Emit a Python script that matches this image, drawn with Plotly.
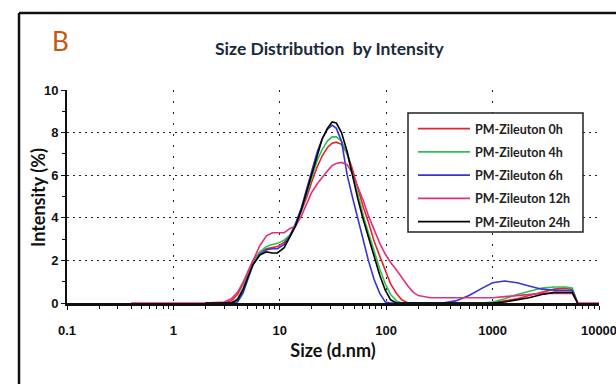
import plotly.graph_objects as go

# ---- data ----
sizes = [0.4, 0.6, 1, 2, 3, 3.5, 4, 4.5, 5, 5.6, 6.5, 7.5, 8.5, 9.5, 11, 12.5,
         14, 16, 18, 20, 22.5, 25, 28, 31, 34, 38, 43, 48, 54, 61, 68, 77, 87,
         98, 110, 125, 140, 160, 180, 200, 260, 340, 450, 600, 800, 1000, 1300,
         1700, 2200, 2900, 3800, 4800, 5600, 6300, 8000, 10000]

int_0h = [None, None, None, 0, 0, 0.1, 0.4, 0.9, 1.45, 2.0, 2.4, 2.55, 2.6, 2.65, 2.85, 3.2,
          3.6, 4.3, 5.0, 5.7, 6.4, 6.9, 7.3, 7.5, 7.55, 7.45, 7.0, 6.3, 5.4, 4.5, 3.8, 2.9, 2.2,
          1.5, 0.9, 0.45, 0.15, 0, 0, 0, 0, 0, 0, 0, 0, 0, 0.1,
          0.2, 0.35, 0.5, 0.65, 0.7, 0.65, 0, None, None]
int_4h = [None, None, None, 0, 0, 0, 0.2, 0.7, 1.3, 1.9, 2.4, 2.65, 2.75, 2.8, 2.95, 3.2,
          3.7, 4.4, 5.2, 5.9, 6.7, 7.2, 7.6, 7.8, 7.8, 7.6, 7.0, 6.1, 5.1, 4.1, 3.3, 2.4, 1.6,
          0.9, 0.4, 0.1, 0, 0, 0, 0, 0, 0, 0, 0, 0, 0.05, 0.2,
          0.4, 0.55, 0.7, 0.75, 0.75, 0.7, 0, None, None]
int_6h = [None, None, None, 0, 0, 0, 0.05, 0.45, 1.1, 1.8, 2.3, 2.5, 2.55, 2.55, 2.75, 3.15,
          3.7, 4.5, 5.4, 6.2, 7.1, 7.7, 8.15, 8.35, 8.2, 7.6, 6.0, 5.0, 4.0, 2.9, 2.0, 1.1, 0.45,
          0.05, 0, 0, 0, 0, 0, 0, 0, 0, 0.1, 0.35, 0.7, 0.95, 1.03,
          0.95, 0.8, 0.65, 0.6, 0.6, 0.6, 0, None, None]
int_12h = [0, 0, 0, 0, 0.05, 0.2, 0.5, 0.95, 1.45, 2.0, 2.7, 3.15, 3.3, 3.3, 3.3, 3.5,
           3.6, 4.1, 4.7, 5.2, 5.6, 5.9, 6.2, 6.45, 6.55, 6.6, 6.5, 6.1, 5.5, 4.8, 4.1, 3.4, 2.8,
           2.3, 1.9, 1.55, 1.2, 0.8, 0.5, 0.35, 0.25, 0.25, 0.25, 0.25, 0.25, 0.25, 0.3,
           0.35, 0.4, 0.45, 0.45, 0.45, 0.45, 0, 0, 0]
int_24h = [None, None, None, 0, 0, 0, 0.15, 0.6, 1.2, 1.8, 2.25, 2.4, 2.35, 2.35, 2.6, 3.1,
           3.6, 4.4, 5.3, 6.1, 7.0, 7.7, 8.2, 8.5, 8.45, 8.0, 7.1, 6.0, 4.9, 3.9, 3.1, 2.1, 1.3,
           0.6, 0.15, 0, 0, 0, 0, 0, 0, 0, 0, 0, 0, 0, 0.05,
           0.15, 0.25, 0.4, 0.5, 0.5, 0.5, 0, None, None]

series_names = ["PM-Zileuton 0h", "PM-Zileuton 4h", "PM-Zileuton 6h",
                "PM-Zileuton 12h", "PM-Zileuton 24h"]
series_values = [int_0h, int_4h, int_6h, int_12h, int_24h]
series_colors = ["#E8232B", "#2EC052", "#3535D6", "#E2307C", "#000000"]

x_tick_vals = [0.1, 1, 10, 100, 1000, 10000]
x_tick_text = ["0.1", "1", "10", "100", "1000", "10000"]
y_tick_vals = [0, 2, 4, 6, 8, 10]

fig = go.Figure()
for i, (name, vals, col) in enumerate(zip(series_names, series_values, series_colors)):
    fig.add_trace(go.Scatter(x=sizes, y=vals, mode="lines", name=name,
                             legendgroup="g%d" % i,
                             line=dict(color=col, width=1.6), connectgaps=False))

tick_font = dict(family="Liberation Sans Narrow, Liberation Sans", size=13,
                 color="#111", weight="bold")
lab_font = dict(family="Lato", size=18, color="#111", weight="bold")

px_x = lambda p: (p - 67) / 532
px_y = lambda p: (303 - p) / 213

fig.update_layout(
    width=616, height=384,
    margin=dict(l=67, r=17, t=90, b=81, autoexpand=False),
    paper_bgcolor="white", plot_bgcolor="white",
    showlegend=True,
    legend=dict(x=px_x(413), y=px_y(114), xanchor="left", yanchor="top",
                bgcolor="rgba(0,0,0,0)", borderwidth=0,
                font=dict(family="Lato", size=12.5, color="#222", weight="bold"),
                tracegroupgap=4, itemwidth=52),
    annotations=[
        dict(text="Size Distribution  by Intensity", xref="paper", yref="paper",
             x=px_x(330), y=px_y(48), xanchor="center", yanchor="middle",
             showarrow=False,
             font=dict(family="Lato", size=17.5, color="#1a2a3a", weight="bold")),
        dict(text="B", xref="paper", yref="paper",
             x=px_x(60), y=px_y(41), xanchor="center", yanchor="middle",
             showarrow=False,
             font=dict(family="Lato", size=26, color="#C8560F")),
        dict(text="Intensity (%)", xref="paper", yref="paper",
             x=px_x(38), y=px_y(198), xanchor="center", yanchor="middle",
             textangle=-90, showarrow=False, font=lab_font),
    ],
    shapes=[
        # outer frame (left and top edges, the rest is cropped in the reference)
        dict(type="line", xref="paper", yref="paper",
             x0=px_x(19), x1=px_x(19), y0=px_y(13), y1=px_y(400),
             line=dict(color="#111", width=2.5)),
        dict(type="line", xref="paper", yref="paper",
             x0=px_x(19), x1=px_x(640), y0=px_y(13), y1=px_y(13),
             line=dict(color="#111", width=2.5)),
        # legend box
        dict(type="rect", xref="paper", yref="paper",
             x0=px_x(408), x1=px_x(583), y0=px_y(232), y1=px_y(113),
             line=dict(color="#222", width=1.5), fillcolor="white", layer="above"),
    ],
)

fig.update_xaxes(
    type="log", range=[-1, 4], automargin=False,
    tickvals=x_tick_vals, ticktext=x_tick_text,
    ticks="outside", ticklen=4, tickcolor="#111", tickfont=tick_font,
    ticklabelstandoff=10, ticklabeloverflow="allow",
    showline=True, linecolor="#111", linewidth=2.5,
    showgrid=True, gridcolor="#222", gridwidth=1.2, griddash="2px,9px",
    minor=dict(ticks="outside", ticklen=3, tickcolor="#111", dtick="D1", showgrid=False),
    zeroline=False, layer="below traces",
    title=dict(text="Size (d.nm)", font=lab_font, standoff=8),
)
fig.update_yaxes(
    range=[0, 10], tickvals=y_tick_vals, automargin=False,
    ticks="outside", ticklen=4, tickcolor="#111", tickfont=tick_font,
    ticklabelstandoff=0,
    showline=True, linecolor="#111", linewidth=2,
    showgrid=True, gridcolor="#222", gridwidth=1.2, griddash="2px,4px",
    minor=dict(ticks="outside", ticklen=3, tickcolor="#111", dtick=1, showgrid=False),
    zeroline=False, layer="below traces",
)

fig.write_html("out.html")
